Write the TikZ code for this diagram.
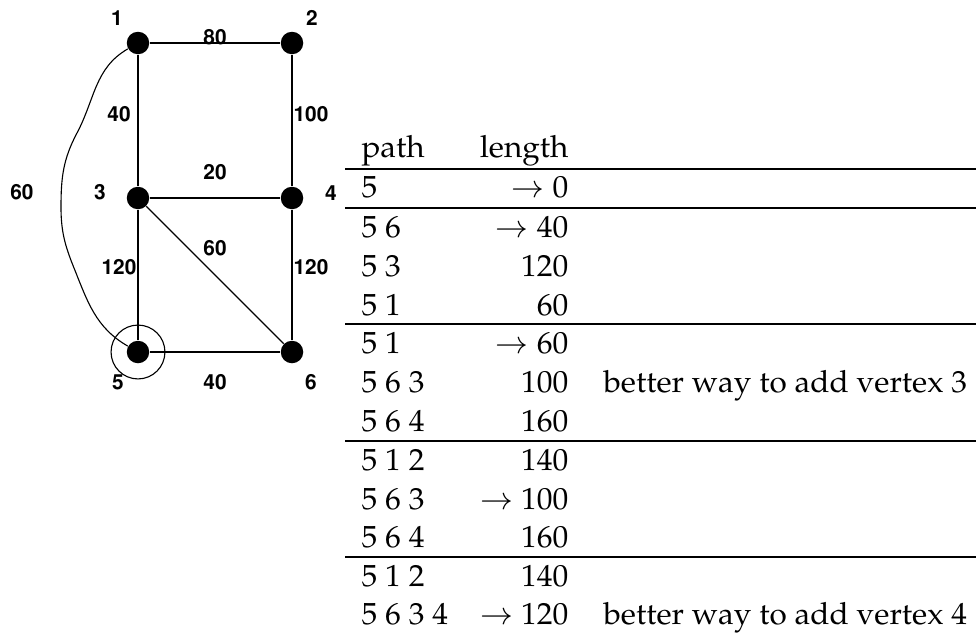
\documentclass[tikz,border=0pt]{standalone}
\usepackage[T1]{fontenc}
\usepackage{mathpazo}
\usepackage{helvet}
\usepackage{graphicx}
\newcommand\hstretch[1]{\scalebox{1.03}[1]{#1}}
\begin{document}
\begin{tikzpicture}[x=0.36pt,y=-0.36pt,
  vtx/.style={circle,fill=black,inner sep=0pt,minimum size=8.1pt},
  edge/.style={line width=0.4pt},
  lbl/.style={font=\fontfamily{phv}\fontseries{b}\fontsize{7.5}{9}\selectfont, inner sep=0pt},
  cellL/.style={font=\fontsize{11}{13}\selectfont, inner sep=0pt, anchor=base west},
  cellR/.style={font=\fontsize{11}{13}\selectfont, inner sep=0pt, anchor=base east},
  rule/.style={line width=0.45pt}]
\useasboundingbox (0,0) rectangle (976,633);
% vertices
\node[vtx] (n1) at (138,43) {};
\node[vtx] (n2) at (292,43) {};
\node[vtx] (n3) at (138,198) {};
\node[vtx] (n4) at (292,198) {};
\node[vtx] (n5) at (138,352) {};
\node[vtx] (n6) at (292,352) {};
\node[circle,draw,line width=0.4pt,minimum size=19.4pt,inner sep=0pt] (ring) at (n5) {};
\coordinate (cA) at (77,133);
\coordinate (c60) at (61,207);
\coordinate (cB) at (74,268);
% edges
\draw[edge] (n1) -- (n2);
\draw[edge] (n1) -- (n3);
\draw[edge] (n2) -- (n4);
\draw[edge] (n3) -- (n4);
\draw[edge] (n3) -- (n5);
\draw[edge] (n3) -- (n6);
\draw[edge] (n4) -- (n6);
\draw[edge] (n5) -- (n6);
\draw[edge] (n1) to[out=210,in=62] (cA) to[out=242,in=90] (c60)
  to[out=270,in=112] (cB) to[out=292,in=150] (n5);
% vertex labels
\node[lbl] (l1) at (117,18) {1};
\node[lbl] (l2) at (312,18) {2};
\node[lbl] (l3) at (100,192) {3};
\node[lbl] (l4) at (331,193) {4};
\node[lbl] (l5) at (118,382) {5};
\node[lbl] (l6) at (311,382) {6};
% edge labels
\node[lbl] (w12) at (215,37) {80};
\node[lbl] (w13) at (119,114) {40};
\node[lbl] (w24) at (311,114) {100};
\node[lbl] (w34) at (215,172) {20};
\node[lbl] (w15) at (22,192) {60};
\node[lbl] (w36) at (215,248) {60};
\node[lbl] (w35) at (119,267) {120};
\node[lbl] (w46) at (311,267) {120};
\node[lbl] (w56) at (215,382) {40};
% table
\node[cellL] (h1) at (361,157) {\hstretch{path}};
\node[cellR] (h2) at (569,157) {\hstretch{length}};
\draw[rule] (345,169) -- (976,169);
\node[cellL] (a1) at (361,197) {\hstretch{5}};
\node[cellR] (b1) at (569,197) {\hstretch{$\to$ 0}};
\draw[rule] (345,208) -- (976,208);
\node[cellL] (a2) at (361,237) {\hstretch{5 6}};
\node[cellR] (b2) at (569,237) {\hstretch{$\to$ 40}};
\node[cellL] (a3) at (361,276) {\hstretch{5 3}};
\node[cellR] (b3) at (569,276) {\hstretch{120}};
\node[cellL] (a4) at (361,315) {\hstretch{5 1}};
\node[cellR] (b4) at (569,315) {\hstretch{60}};
\draw[rule] (345,324) -- (976,324);
\node[cellL] (a5) at (361,353) {\hstretch{5 1}};
\node[cellR] (b5) at (569,353) {\hstretch{$\to$ 60}};
\node[cellL] (a6) at (361,392) {\hstretch{5 6 3}};
\node[cellR] (b6) at (569,392) {\hstretch{100}};
\node[cellL] (c6) at (603,392) {\hstretch{better way to add vertex 3}};
\node[cellL] (a7) at (361,431) {\hstretch{5 6 4}};
\node[cellR] (b7) at (569,431) {\hstretch{160}};
\draw[rule] (345,441) -- (976,441);
\node[cellL] (a8) at (361,470) {\hstretch{5 1 2}};
\node[cellR] (b8) at (569,470) {\hstretch{140}};
\node[cellL] (a9) at (361,509) {\hstretch{5 6 3}};
\node[cellR] (b9) at (569,509) {\hstretch{$\to$ 100}};
\node[cellL] (a10) at (361,547) {\hstretch{5 6 4}};
\node[cellR] (b10) at (569,547) {\hstretch{160}};
\draw[rule] (345,557) -- (976,557);
\node[cellL] (a11) at (361,586) {\hstretch{5 1 2}};
\node[cellR] (b11) at (569,586) {\hstretch{140}};
\node[cellL] (a12) at (361,624) {\hstretch{5 6 3 4}};
\node[cellR] (b12) at (569,624) {\hstretch{$\to$ 120}};
\node[cellL] (c12) at (603,624) {\hstretch{better way to add vertex 4}};
\end{tikzpicture}
\end{document}
